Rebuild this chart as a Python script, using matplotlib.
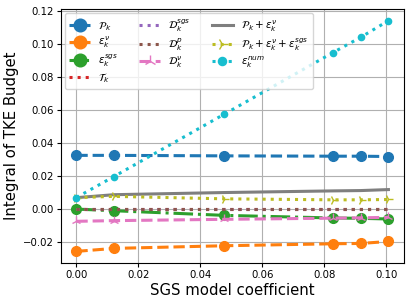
import numpy as np
import matplotlib
matplotlib.use('Agg')
import matplotlib.pyplot as plt

# SGS model coefficients
cs = [0.0, 0.0121, 0.0476, 0.0828, 0.0918, 0.1007]

P_k = [0.0325, 0.0325, 0.0322, 0.0320, 0.0320, 0.0318]
eps_v = [-0.0256, -0.0238, -0.0222, -0.0210, -0.0208, -0.0196]
eps_sgs = [0.0, -0.0010, -0.0038, -0.0054, -0.0056, -0.0060]
T_k = [0.0, 0.0, 0.0, 0.0, 0.0, 0.0]
D_sgs = [0.0, 0.0, 0.0, 0.0, 0.0, 0.0]
D_p = [0.0, 0.0, 0.0, 0.0, 0.0, 0.0]
D_v = [-0.0074, -0.0070, -0.0062, -0.0055, -0.0053, -0.0050]
P_eps = [0.0069, 0.0087, 0.0100, 0.0110, 0.0112, 0.0118]
P_eps_sgs = [0.0069, 0.0077, 0.0062, 0.0056, 0.0056, 0.0058]
eps_num = [0.0070, 0.0197, 0.0573, 0.0947, 0.1040, 0.1140]

fig = plt.figure(figsize=(4.11, 3.05), dpi=100)
ax = fig.add_axes([0.148, 0.138, 0.835, 0.832])

lw = 2.2
ax.plot(cs, P_k, ls='--', marker='o', ms=7, lw=lw, label=r'$\mathcal{P}_k$')
ax.plot(cs, eps_v, ls='--', marker='o', ms=7, lw=lw, label=r'$\varepsilon_k^{\nu}$')
ax.plot(cs, eps_sgs, ls='-.', marker='o', ms=7, lw=lw, label=r'$\varepsilon_k^{sgs}$')
ax.plot(cs, T_k, ls=':', lw=lw, label=r'$\mathcal{T}_k$')
ax.plot(cs, D_sgs, ls=':', lw=lw, label=r'$\mathcal{D}_k^{sgs}$')
ax.plot(cs, D_p, ls=':', lw=lw, label=r'$\mathcal{D}_k^{p}$')
ax.plot(cs, D_v, ls='--', marker='2', ms=7, lw=lw, label=r'$\mathcal{D}_k^{\nu}$')
ax.plot(cs, P_eps, ls='-', lw=lw, label=r'$\mathcal{P}_k+\varepsilon_k^{\nu}$')
ax.plot(cs, P_eps_sgs, ls=':', marker='4', ms=7, lw=lw,
        label=r'$\mathcal{P}_k+\varepsilon_k^{\nu}+\varepsilon_k^{sgs}$')
ax.plot(cs, eps_num, ls=':', marker='o', ms=4.5, lw=lw, label=r'$\varepsilon_k^{num}$')

ax.grid(True)
ax.set_xlabel('SGS model coefficient', fontsize=10.7, labelpad=2)
ax.set_ylabel('Integral of TKE Budget', fontsize=10.7, labelpad=3)
ax.tick_params(labelsize=7.3, length=3, pad=2)
ax.legend(ncol=3, loc='upper left', fontsize=7.5, handlelength=2.0,
          borderaxespad=0.4, labelspacing=0.2, columnspacing=2.0,
          markerscale=1.3)

fig.savefig('out.png', dpi=100)
